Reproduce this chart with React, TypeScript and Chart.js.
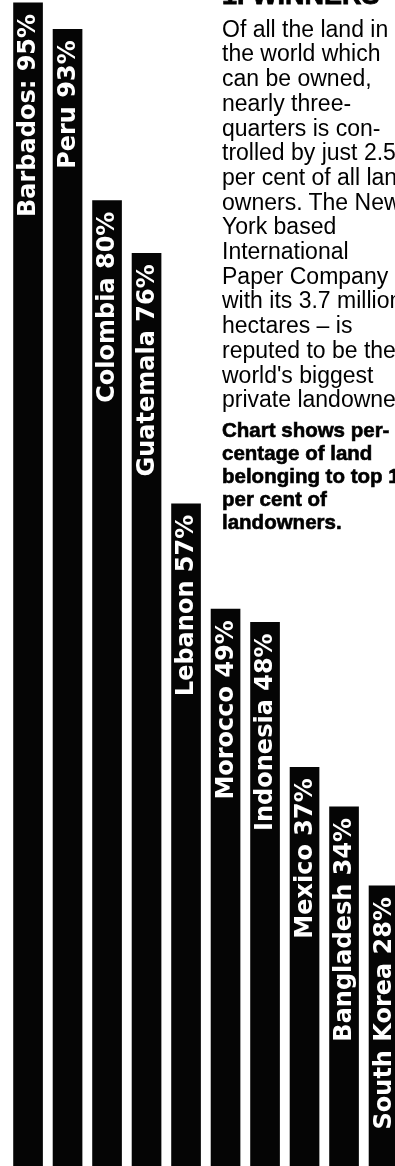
import React, { useEffect, useRef } from "react";
import { Chart, registerables } from "chart.js";

Chart.register(...registerables);

// ---- data ----
const countries = [
  "Barbados",
  "Peru",
  "Colombia",
  "Guatemala",
  "Lebanon",
  "Morocco",
  "Indonesia",
  "Mexico",
  "Bangladesh",
  "South Korea",
];
const shares = [95, 93, 80, 76, 57, 49, 48, 37, 34, 28];

const titleText = "1. WINNERS";
const bodyLines = [
  "Of all the land in",
  "the world which",
  "can be owned,",
  "nearly three-",
  "quarters is con-",
  "trolled by just 2.5",
  "per cent of all land-",
  "owners. The New",
  "York based",
  "International",
  "Paper Company  \u2013",
  "with its 3.7 million",
  "hectares \u2013 is",
  "reputed to be the",
  "world's biggest",
  "private landowner.",
];
const captionLines = [
  "Chart shows per-",
  "centage of land",
  "belonging to top 10",
  "per cent of",
  "landowners.",
];

// visible value range of the cropped picture
const Y_MIN = 6.75;
const Y_MAX = 95.22;
const X_MIN = -0.71;
const X_MAX = 9.29;

const W = 395;
const H = 1166;

const labelPlugin = {
  id: "barLabels",
  afterDatasetsDraw(chart: any) {
    const ctx = chart.ctx;
    const meta = chart.getDatasetMeta(0);
    ctx.save();
    ctx.fillStyle = "#ffffff";
    ctx.font = 'bold 24px "DejaVu Sans", sans-serif';
    ctx.textAlign = "right";
    ctx.textBaseline = "middle";
    meta.data.forEach((bar: any, i: number) => {
      const text = `${countries[i]}${i === 0 ? ":" : ""} ${shares[i]}%`;
      ctx.save();
      ctx.translate(bar.x + 1, bar.y + 11);
      ctx.rotate(-Math.PI / 2);
      ctx.fillText(text, 0, 0);
      ctx.restore();
    });
    ctx.restore();
  },
};

export default function App() {
  const canvasRef = useRef<HTMLCanvasElement | null>(null);

  useEffect(() => {
    document.body.style.margin = "0";
    const canvas = canvasRef.current;
    if (!canvas) return;
    const chart = new Chart(canvas, {
      type: "bar",
      data: {
        datasets: [
          {
            data: shares.map((v, i) => ({ x: i, y: v })),
            backgroundColor: "#050505",
            borderWidth: 0,
            barThickness: 29,
          },
        ],
      },
      options: {
        animation: false,
        responsive: false,
        maintainAspectRatio: false,
        devicePixelRatio: 1,
        layout: { padding: 0 },
        plugins: {
          legend: { display: false },
          tooltip: { enabled: false },
          title: { display: false },
        },
        scales: {
          x: { type: "linear", min: X_MIN, max: X_MAX, display: false, offset: false },
          y: { min: Y_MIN, max: Y_MAX, display: false },
        },
      },
      plugins: [labelPlugin],
    } as any);
    return () => chart.destroy();
  }, []);

  return (
    <div
      style={{
        position: "fixed",
        left: 0,
        top: 0,
        width: W,
        height: H,
        overflow: "hidden",
        background: "#ffffff",
      }}
    >
      <canvas
        ref={canvasRef}
        width={W}
        height={H}
        style={{ position: "absolute", left: 0, top: 0, width: W, height: H, display: "block" }}
      />
      <div
        style={{
          position: "absolute",
          left: 222,
          top: -18,
          whiteSpace: "pre",
          fontFamily: '"Liberation Sans", Arial, sans-serif',
          fontWeight: "bold",
          fontSize: 27,
          lineHeight: "27px",
          color: "#000",
          WebkitTextStroke: "0.8px #000",
        }}
      >
        {titleText}
      </div>
      <div
        style={{
          position: "absolute",
          left: 222,
          top: 16.7,
          whiteSpace: "pre",
          fontFamily: '"Liberation Sans", Arial, sans-serif',
          fontSize: 23,
          lineHeight: "24.7px",
          color: "#000",
        }}
      >
        {bodyLines.map((l, i) => (
          <div key={i}>{l}</div>
        ))}
      </div>
      <div
        style={{
          position: "absolute",
          left: 222,
          top: 418.4,
          whiteSpace: "pre",
          fontFamily: '"Liberation Sans", Arial, sans-serif',
          fontWeight: "bold",
          fontSize: 20.5,
          lineHeight: "23px",
          color: "#000",
          WebkitTextStroke: "0.6px #000",
        }}
      >
        {captionLines.map((l, i) => (
          <div key={i}>{l}</div>
        ))}
      </div>
    </div>
  );
}
